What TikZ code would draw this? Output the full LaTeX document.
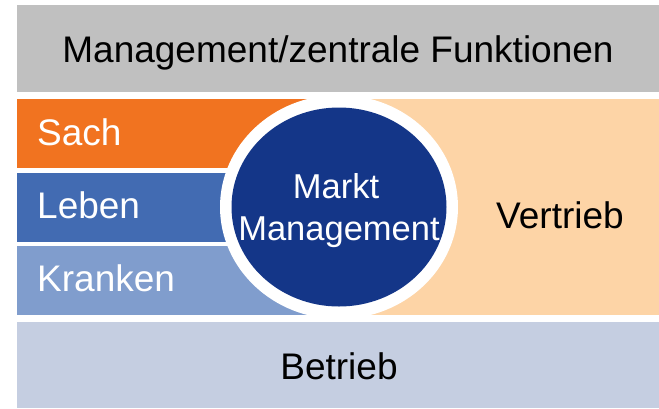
\documentclass[tikz,border=0pt]{standalone}
\usepackage{fontspec}
\setmainfont{Liberation Sans}
\definecolor{cgray}{RGB}{192,192,192}
\definecolor{corange}{RGB}{241,115,32}
\definecolor{cleben}{RGB}{66,107,178}
\definecolor{ckranken}{RGB}{128,157,205}
\definecolor{cpeach}{RGB}{253,212,166}
\definecolor{cbetrieb}{RGB}{197,206,225}
\definecolor{cdark}{RGB}{20,54,136}
\tikzset{
  band/.style={inner sep=0pt, outer sep=0pt},
  bigtext/.style={font=\fontsize{37}{44}\selectfont, inner sep=0pt},
  circtext/.style={font=\fontsize{34.5}{41}\selectfont, inner sep=0pt, text=white},
}
\begin{document}
\begin{tikzpicture}[x=1pt,y=-1pt]
\useasboundingbox (0,0) rectangle (659,408);
\fill[white] (0,0) rectangle (659,408);
% top gray
\fill[cgray] (17,5) rectangle (659,91.7);
% bands
\fill[corange] (17,99) rectangle (339,168);
\fill[cleben] (17,173) rectangle (339,242);
\fill[ckranken] (17,246) rectangle (339,314.5);
\fill[cpeach] (339,99) rectangle (659,314.5);
% bottom
\fill[cbetrieb] (17,322) rectangle (659,408);
% circle
\fill[white] (339,207) ellipse [x radius=119, y radius=112];
\fill[cdark] (339,207) ellipse [x radius=107.5, y radius=99.5];
% texts
\node[bigtext, anchor=base] (top) at (338,62.5) {Management/zentrale Funktionen};
\node[bigtext, anchor=base west, text=white] (sach) at (37,145) {Sach};
\node[bigtext, anchor=base west, text=white] (leben) at (37,218.3) {Leben};
\node[bigtext, anchor=base west, text=white] (kranken) at (37,291.7) {Kranken};
\node[bigtext, anchor=base] (vertrieb) at (560,228.3) {Vertrieb};
\node[bigtext, anchor=base] (betrieb) at (339,379) {Betrieb};
\node[circtext, anchor=base] (markt) at (336,198.3) {Markt};
\node[circtext, anchor=base] (mgmt) at (339,240) {Management};
\end{tikzpicture}
\end{document}
